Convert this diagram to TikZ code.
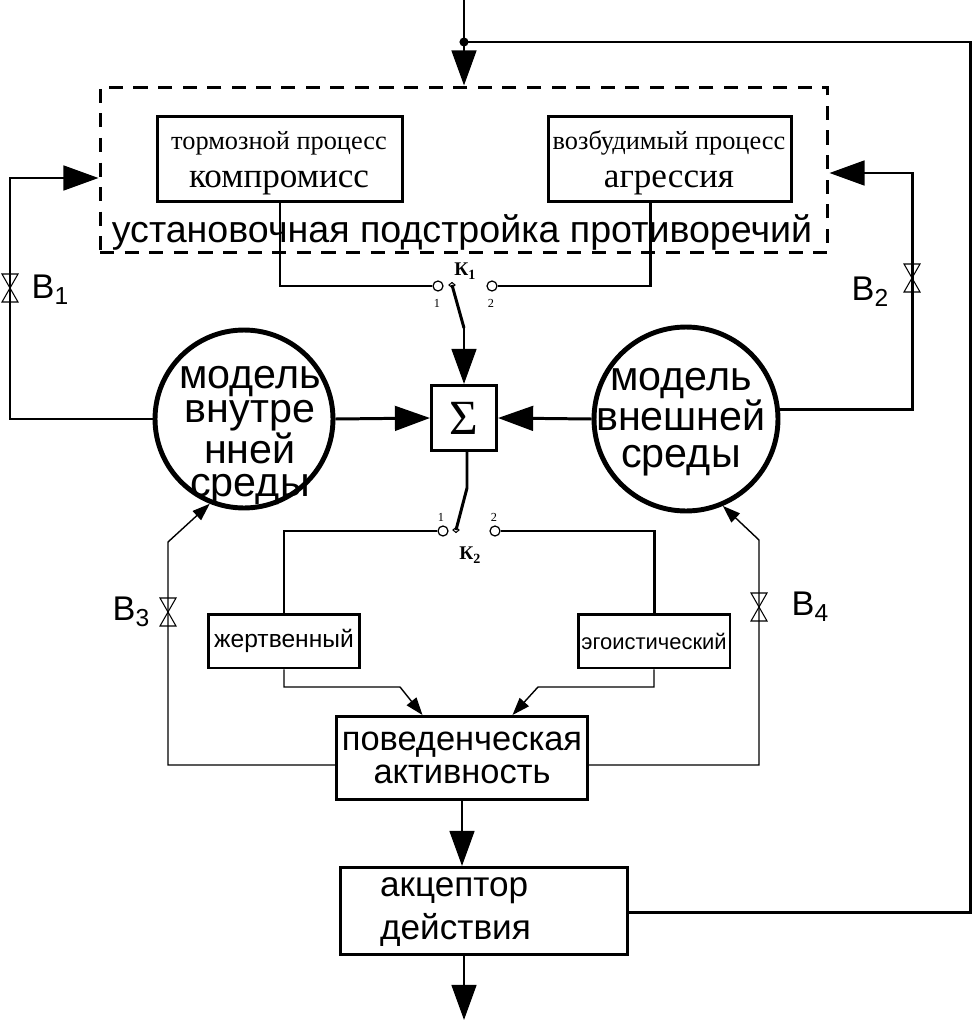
\documentclass[tikz,border=0pt]{standalone}
\usepackage{fontspec}
\setmainfont{Liberation Serif}
\setsansfont{Liberation Sans}
\usetikzlibrary{arrows.meta,calc}

\newcommand{\lowidx}[1]{\raisebox{-0.35ex}{\fontsize{14}{14}\selectfont #1}}
\newcommand{\kidx}[1]{\raisebox{-0.45ex}{\fontsize{8}{8}\selectfont #1}}
\newcommand{\valve}[1]{\draw[line width=0.6pt] ($(#1)+(-8,-14)$) -- ++(16,0) -- ++(-16,28) -- ++(16,0) -- cycle;}

\tikzset{
  thickline/.style={line width=1.7pt},
  thinline/.style={line width=0.8pt},
  bigtip/.style={-{Triangle[length=20pt,width=14pt]}},
  smalltip/.style={-{Triangle[length=10pt,width=7pt]}},
  procbox/.style={draw, line width=1.7pt, minimum width=4.9cm, minimum height=1.72cm, inner sep=0pt},
  proctext/.style={align=center, font=\fontsize{20}{21.5}\selectfont},
  typebox/.style={draw, line width=1.7pt, minimum width=3.04cm, minimum height=1.08cm, inner sep=0pt},
  bigbox/.style={draw, line width=1.7pt, inner sep=0pt, align=center, font=\sffamily\fontsize{19.6}{18.7}\selectfont},
  model/.style={circle, draw, line width=2.8pt, inner sep=0pt},
  modeltext/.style={align=center, inner sep=0pt},
  contact/.style={circle, draw, line width=0.7pt, minimum size=0.2cm, inner sep=0pt},
  vlabel/.style={font=\sffamily\fontsize{19.5}{19.5}\selectfont},
  klabel/.style={font=\bfseries\fontsize{11}{11}\selectfont},
  nlabel/.style={font=\fontsize{7}{7}\selectfont}
}

\begin{document}
\begin{tikzpicture}[x=0.02cm, y=-0.02cm]
\useasboundingbox (0,0) rectangle (974,1024);

% setting block
\node[draw, line width=1.7pt, dash pattern=on 8pt off 6pt, minimum width=14.56cm, minimum height=3.32cm, inner sep=0pt] (tune) at (464,170) {};
\node[procbox] (brake) at (280,159) {};
\node[proctext] (braketext) at (279,163) {{\fontsize{15}{21.5}\selectfont тормозной процесс}\\компромисс};
\node[procbox, minimum width=4.88cm] (excite) at (670,159) {};
\node[proctext] (excitetext) at (669,163) {{\fontsize{15}{21.5}\selectfont возбудимый процесс}\\агрессия};
\node[font=\sffamily\fontsize{21.4}{21.4}\selectfont] (tunetext) at (462,232) {установочная подстройка противоречий};

% models and sum
\node[model, minimum size=3.56cm] (inner) at (244,419) {};
\node[modeltext, font=\sffamily\fontsize{23.5}{19}\selectfont] (innertext) at (250,436) {модель\\внутре\\нней\\среды};
\node[model, minimum size=3.68cm] (outer) at (686,419) {};
\node[modeltext, font=\sffamily\fontsize{23.5}{21}\selectfont] (outertext) at (681,422) {модель\\внешней\\среды};
\node[draw, line width=1.7pt, minimum size=1.3cm, inner sep=0pt, font=\fontsize{28}{28}\selectfont] (sum) at (464,418) {Σ};

% switches
\node[contact] (k1a) at (438,286) {};
\node[contact] (k1b) at (492,286) {};
\node[contact] (k2a) at (443,531) {};
\node[contact] (k2b) at (495,531) {};
\coordinate (k1p) at (452,285);
\coordinate (k1q) at (464,328);
\coordinate (k2p) at (456,530);
\coordinate (k2q) at (467,488);
\node[klabel] (k1) at (465,271) {К\kidx{1}};
\node[klabel] (k2) at (470,555) {К\kidx{2}};
\node[nlabel] at (437,303) {1};
\node[nlabel] at (491,303) {2};
\node[nlabel] at (441,517) {1};
\node[nlabel] at (494,517) {2};

% behaviour
\node[typebox, font=\sffamily\fontsize{14}{14}\selectfont] (victim) at (284,641) {жертвенный};
\node[typebox, font=\sffamily\fontsize{12.5}{12.5}\selectfont] (ego) at (654,641) {эгоистический};
\node[bigbox, minimum width=5.02cm, minimum height=1.66cm] (beh) at (462,758) {поведенческая\\активность};
\node[bigbox, minimum width=5.76cm, minimum height=1.74cm] (acc) at (484,911) {};
\node[anchor=west, align=left, font=\sffamily\fontsize{20}{24}\selectfont] (acctext) at (374,912) {акцептор\\действия};

% coordinates
\coordinate (top) at (464,0);
\coordinate (dot) at (464,42);
\coordinate (fbr) at (970,42);
\coordinate (fbb) at (970,912);
\coordinate (out) at (464,1020);
\coordinate (b1c) at (10,178);
\coordinate (b2c) at (912,173);
\coordinate (b3c) at (168,542);
\coordinate (b4c) at (759,540);
\coordinate (vb) at (400,687);
\coordinate (eb) at (538,687);
\coordinate (b1v) at (10,288);
\coordinate (b2v) at (912,278);
\coordinate (b3v) at (168,612);
\coordinate (b4v) at (759,607);

% connectors
\draw[thickline, bigtip] (top) -- (top |- tune.north);
\fill (dot) circle (2.6pt);
\draw[thickline] (dot) -- (fbr) -- (fbb) -- (fbb -| acc.east);

\draw[thickline, bigtip] (inner.west) -| (b1c) -- (b1c -| tune.west);
\draw[thickline, bigtip] (outer.6) -| (b2c) -- (b2c -| tune.east);

\draw[thickline] (brake.south) |- (k1a.west);
\draw[thickline] ([xshift=-0.4cm]excite.south) |- (k1b.east);
\draw[thickline] (k1p) -- (k1q);
\draw[thickline, bigtip] (k1q) -- (sum.north);
\draw[line width=0.6pt] (k1p) +(-3,0) -- +(0,-2.5) -- +(3,0) -- +(0,2.5) -- cycle;

\draw[thickline, bigtip] (inner.east) -- (sum.west);
\draw[thickline, bigtip] (outer.west) -- (sum.east);

\draw[thickline] (sum.south -| k2q) -- (k2q) -- (k2p);
\draw[line width=0.6pt] (k2p) +(-3,0) -- +(0,-2.5) -- +(3,0) -- +(0,2.5) -- cycle;
\draw[thickline] (k2a.west) -| (victim.north);
\draw[thickline] (k2b.east) -| (ego.north);

\draw[thinline, smalltip] (victim.south) |- (vb) -- ([xshift=-0.79cm]beh.north);
\draw[thinline, smalltip] (ego.south) |- (eb) -- ([xshift=1.01cm]beh.north);

\draw[thinline, smalltip] ([yshift=-0.14cm]beh.west) -| (b3c) -- (inner.248);
\draw[thinline, smalltip] ([yshift=-0.14cm]beh.east) -| (b4c) -- (outer.293);

\draw[thickline, bigtip] (beh.south) -- (beh.south |- acc.north);
\draw[thickline, bigtip] (acc.south -| out) -- (out);

% valves
\valve{b1v}
\valve{b2v}
\valve{b3v}
\valve{b4v}
\node[vlabel] at (50,290) {B\lowidx{1}};
\node[vlabel] at (870,292) {B\lowidx{2}};
\node[vlabel] at (131,612) {B\lowidx{3}};
\node[vlabel] at (810,607) {B\lowidx{4}};

\end{tikzpicture}
\end{document}
